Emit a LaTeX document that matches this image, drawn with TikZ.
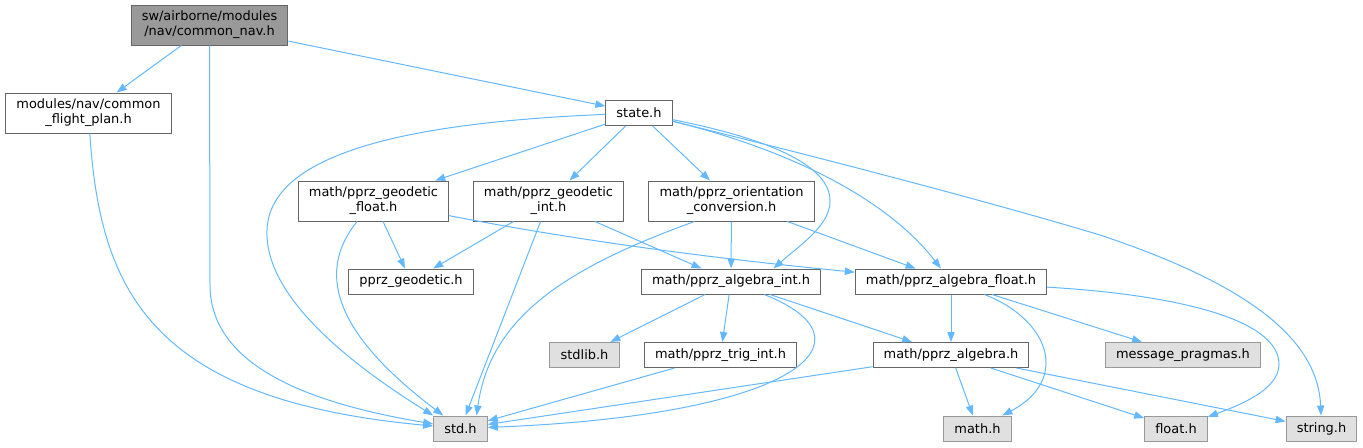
\documentclass[tikz,border=0pt]{standalone}
\usepackage{fontspec}
\setmainfont{DejaVu Sans}
\usetikzlibrary{arrows.meta}
\definecolor{edgeblue}{RGB}{99,184,255}
\definecolor{boxline}{RGB}{102,102,102}
\definecolor{sysline}{RGB}{153,153,153}
\definecolor{sysfill}{RGB}{224,224,224}
\definecolor{topfill}{RGB}{153,153,153}

\begin{document}
\begin{tikzpicture}[x=.75pt,y=-.75pt,
 every node/.style={font=\fontsize{9.7}{11.25}\selectfont},
 file/.style={draw=boxline,fill=white,line width=.75pt,inner xsep=8pt,
   inner ysep=0pt,minimum height=18.75pt,align=center},
 twoline/.style={minimum height=30pt},
 sysfile/.style={file,draw=sysline,fill=sysfill},
 topfile/.style={file,twoline,fill=topfill},
 inc/.style={edgeblue,line width=.75pt,-{Triangle[length=7.5pt,width=5.5pt]}}]
 \useasboundingbox (0,0) rectangle (1363,447);
 % files
 \node[topfile] (nav) at (209.5,25) {sw/airborne/modules\\/nav/common\_nav.h};
 \node[file,twoline] (fplan) at (88.5,113) {modules/nav/common\\\_flight\_plan.h};
 \node[file] (state) at (639,113) {state.h};
 \node[file,twoline] (geofloat) at (373.5,201) {math/pprz\_geodetic\\\_float.h};
 \node[file,twoline] (geoint) at (548.5,201) {math/pprz\_geodetic\\\_int.h};
 \node[file,twoline] (orient) at (731.5,201) {math/pprz\_orientation\\\_conversion.h};
 \node[file] (geodetic) at (411,281.5) {pprz\_geodetic.h};
 \node[file] (algint) at (731,281.5) {math/pprz\_algebra\_int.h};
 \node[file] (algfloat) at (951,281.5) {math/pprz\_algebra\_float.h};
 \node[sysfile] (stdlib) at (584.5,355) {stdlib.h};
 \node[file] (trig) at (720.5,355) {math/pprz\_trig\_int.h};
 \node[file] (algebra) at (951,355) {math/pprz\_algebra.h};
 \node[sysfile] (pragmas) at (1183,355) {message\_pragmas.h};
 \node[sysfile] (std) at (460.5,428.5) {std.h};
 \node[sysfile] (math) at (977.5,428.5) {math.h};
 \node[sysfile] (float) at (1176,428.5) {float.h};
 \node[sysfile] (string) at (1321.5,428.5) {string.h};
 % includes
 \draw[inc] (nav) -- (fplan);
 \draw[inc] (nav) -- (state);
 \draw[inc] (nav.south) -- (210,285) .. controls (210,370) and (320,405) .. (std);
 \draw[inc] (fplan) .. controls (100,290) and (150,400) .. (std);
 \draw[inc] (state) .. controls (420,122) and (270,150) .. (267,230)
  .. controls (264,300) and (360,370) .. (std.north west);
 \draw[inc] (state) -- (geofloat);
 \draw[inc] (state) -- (geoint);
 \draw[inc] (state) -- (orient);
 \draw[inc] (state) .. controls (750,135) and (829,160) .. (830,200)
  .. controls (831,225) and (800,245) .. (algint.17);
 \draw[inc] (state) .. controls (770,145) and (880,190) .. (algfloat);
 \draw[inc] (state) .. controls (850,165) and (1000,205) .. (1100,235)
  .. controls (1250,285) and (1318,340) .. (string);
 \draw[inc] (geofloat) .. controls (318,270) and (330,330) .. (std);
 \draw[inc] (geofloat) -- (geodetic);
 \draw[inc] (geofloat) .. controls (600,245) and (750,262) .. (algfloat);
 \draw[inc] (geoint) -- (geodetic);
 \draw[inc] (geoint) -- (std);
 \draw[inc] (geoint) -- (algint);
 \draw[inc] (orient.-151) .. controls (560,270) and (490,320) .. (std.39);
 \draw[inc] (orient) -- (algint);
 \draw[inc] (orient) -- (algfloat);
 \draw[inc] (algint) -- (stdlib);
 \draw[inc] (algint) -- (trig);
 \draw[inc] (algint) -- (algebra);
 \draw[inc] (algint) .. controls (880,340) and (800,415) .. (std);
 \draw[inc] (algfloat) -- (algebra);
 \draw[inc] (algfloat) .. controls (1050,320) and (1070,380) .. (math);
 \draw[inc] (algfloat) -- (pragmas);
 \draw[inc] (algfloat) .. controls (1180,295) and (1280,320) .. (1279,365)
  .. controls (1278,390) and (1240,405) .. (float);
 \draw[inc] (trig) -- (std);
 \draw[inc] (algebra) -- (std);
 \draw[inc] (algebra) -- (math);
 \draw[inc] (algebra) -- (float);
 \draw[inc] (algebra) -- (string);
\end{tikzpicture}
\end{document}
